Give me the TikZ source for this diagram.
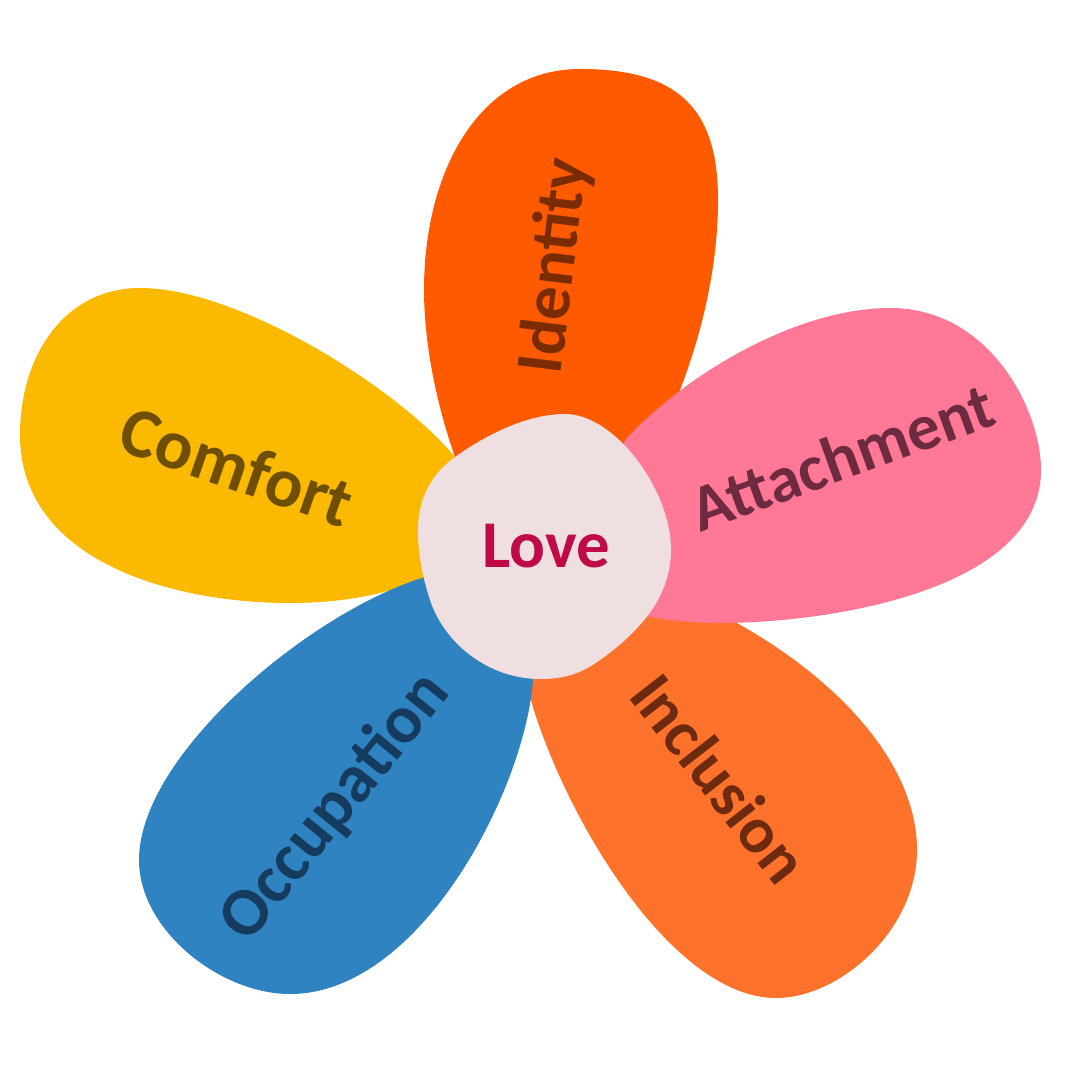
\documentclass[tikz,border=0pt]{standalone}
\usepackage{fontspec}
\setmainfont{Carlito}
\definecolor{yellowpetal}{HTML}{FBB900}
\definecolor{redpetal}{HTML}{FF5A00}
\definecolor{pinkpetal}{HTML}{FF7896}
\definecolor{orangepetal}{HTML}{FF722B}
\definecolor{bluepetal}{HTML}{2E83C0}
\definecolor{corefill}{HTML}{F0DFE0}
\definecolor{yellowword}{HTML}{6E4F00}
\definecolor{redword}{HTML}{7A2C00}
\definecolor{pinkword}{HTML}{6E2A40}
\definecolor{orangeword}{HTML}{6E2A0E}
\definecolor{blueword}{HTML}{153C5E}
\definecolor{coreword}{HTML}{C00A46}
\tikzset{
    petal/.style={draw=none},
    word/.style={inner sep=0pt, font=\fontsize{#1}{#1}\selectfont\bfseries},
}

\begin{document}
\begin{tikzpicture}[x=0.01cm, y=-0.01cm]
        \useasboundingbox (0,0) rectangle (1080,1080);
        \fill[petal, yellowpetal] (455,457) .. controls (400,390) and (240,288) .. (140,288)
            .. controls (65,288) and (20,355) .. (20,435)
            .. controls (20,560) and (170,603) .. (290,603)
            .. controls (340,603) and (390,595) .. (430,575) -- cycle;
        \fill[petal, redpetal] (455,457) .. controls (435,400) and (424,340) .. (424,290)
            .. controls (424,170) and (480,69) .. (580,69)
            .. controls (680,69) and (718,110) .. (718,200)
            .. controls (718,270) and (700,340) .. (678,395)
            -- (660,440) -- (540,500) -- cycle;
        \fill[petal, orangepetal] (735,622) .. controls (840,680) and (917,765) .. (917,850)
            .. controls (917,930) and (840,998) .. (776,998)
            .. controls (670,998) and (560,810) .. (528,690) -- (520,640) -- (600,600) -- cycle;
        \fill[petal, pinkpetal] (625,440) .. controls (690,370) and (800,308) .. (890,308)
            .. controls (990,308) and (1041,410) .. (1041,470)
            .. controls (1041,590) and (830,623) .. (720,623)
            .. controls (690,623) and (665,620) .. (640,615) -- (600,520) -- cycle;
        \fill[petal, bluepetal] (425,577) .. controls (310,612) and (139,755) .. (139,860)
            .. controls (139,930) and (220,994) .. (290,994)
            .. controls (420,994) and (525,790) .. (533,680) -- (500,600) -- cycle;
        \fill[petal, corefill] (455,457) .. controls (490,432) and (530,414) .. (565,414)
            .. controls (615,414) and (671,490) .. (671,550)
            .. controls (671,600) and (635,635) .. (600,660)
            .. controls (578,676) and (560,679) .. (540,679)
            .. controls (490,679) and (445,645) .. (430,600)
            .. controls (422,575) and (418,555) .. (418,530)
            .. controls (418,500) and (430,475) .. (455,457) -- cycle;

        \node[word=20, rotate=-19, text=yellowword] (comfort) at (237,466) {Comfort};
        \node[word=19, rotate=83, text=redword] (identity) at (556,266) {Identity};
        \node[word=18.6, rotate=20, text=pinkword] (attachment) at (842,457) {Attachment};
        \node[word=18.6, rotate=-52, text=orangeword] (inclusion) at (720,778) {Inclusion};
        \node[word=19.4, rotate=51, text=blueword] (occupation) at (336,807) {Occupation};
        \node[word=19, text=coreword] (love) at (546,546) {Love};
    \end{tikzpicture}
\end{document}
